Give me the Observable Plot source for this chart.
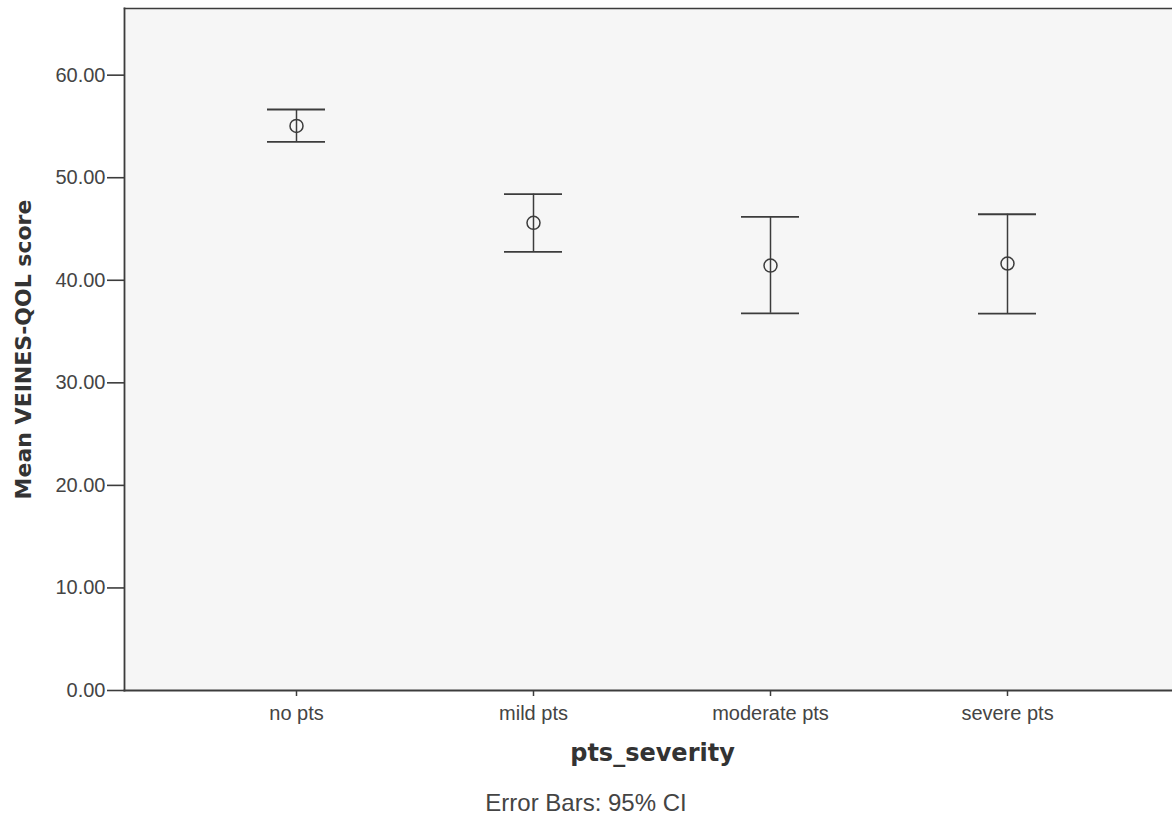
<!DOCTYPE html>
<html>
<head>
<meta charset="utf-8">
<script src="https://cdn.jsdelivr.net/npm/d3@7"></script>
<script src="https://cdn.jsdelivr.net/npm/@observablehq/plot@0.6"></script>
<style>
  body { margin: 0; background: #fff; overflow: hidden; }
  #caption { font-family: "Liberation Sans", Arial, sans-serif; font-size: 24px; color: #444; text-align: center; width: 1172px; padding-top: 9px; line-height: 28px; }
</style>
</head>
<body>
<div id="chart"></div>
<div id="caption">Error Bars: 95% CI</div>
<script>
const categories = ["no pts", "mild pts", "moderate pts", "severe pts"];
const means = [55.05, 45.6, 41.43, 41.63];
const lower = [53.5, 42.76, 36.78, 36.75];
const upper = [56.65, 48.4, 46.18, 46.44];
const yTicks = [0, 10, 20, 30, 40, 50, 60];

const data = categories.map((c, i) => ({cat: c, mean: means[i], lo: lower[i], hi: upper[i]}));
const ink = "#3c3c3c";

const plot = Plot.plot({
  width: 1172,
  height: 780,
  marginLeft: 124,
  marginRight: 0,
  marginTop: 8,
  marginBottom: 90,
  style: {fontFamily: "'Liberation Sans', Arial, sans-serif", color: "#444", background: "#fff"},
  x: {type: "band", domain: categories, range: [266, 1037], paddingInner: 0.756, paddingOuter: 0},
  y: {domain: [0, 66.5]},
  marks: [
    Plot.frame({fill: "#f6f6f6", stroke: null}),
    Plot.frame({anchor: "left", stroke: ink, strokeWidth: 1.8}),
    Plot.frame({anchor: "top", stroke: ink, strokeWidth: 1.5}),
    Plot.frame({anchor: "bottom", stroke: ink, strokeWidth: 1.8}),
    Plot.axisY({ticks: yTicks, tickFormat: d => d.toFixed(2), tickSize: 17, tickPadding: 2, fontSize: 20, label: null, stroke: ink, strokeWidth: 1.6}),
    Plot.axisX({tickSize: 6, tickPadding: 9, fontSize: 20, label: null, stroke: ink, strokeWidth: 1.5}),
    Plot.ruleX(data, {x: "cat", y1: "lo", y2: "hi", stroke: ink, strokeWidth: 1.5}),
    Plot.tickY(data, {x: "cat", y: "lo", stroke: ink, strokeWidth: 1.8}),
    Plot.tickY(data, {x: "cat", y: "hi", stroke: ink, strokeWidth: 1.8}),
    Plot.dot(data, {x: "cat", y: "mean", r: 6.5, stroke: ink, fill: "none", strokeWidth: 1.5}),
    Plot.text(["pts_severity"], {frameAnchor: "bottom", dx: 4, dy: 70, text: d => d, fontFamily: "'DejaVu Sans', Verdana, sans-serif", fontWeight: "bold", fontSize: 24, fill: "#333"}),
    Plot.text(["Mean VEINES-QOL score"], {frameAnchor: "left", textAnchor: "middle", rotate: -90, dx: -101, text: d => d, fontFamily: "'DejaVu Sans', Verdana, sans-serif", fontWeight: "bold", fontSize: 22, fill: "#333"})
  ]
});
document.getElementById("chart").appendChild(plot);
</script>
</body>
</html>
